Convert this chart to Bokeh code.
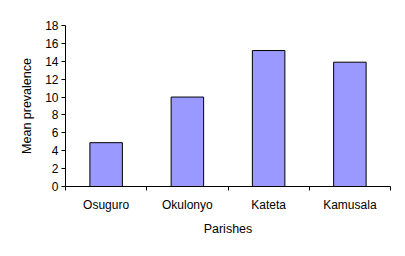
from bokeh.plotting import figure
from bokeh.models import FixedTicker, Range1d
from bokeh.embed import file_html
from bokeh.resources import INLINE

categories = ["Osuguro", "Okulonyo", "Kateta", "Kamusala"]
values = [4.9, 10.0, 15.2, 13.9]
y_ticks = [0, 2, 4, 6, 8, 10, 12, 14, 16, 18]

xs = [i + 0.5 for i in range(len(categories))]

p = figure(width=405, height=256, output_backend="svg", toolbar_location=None,
           x_range=Range1d(0, len(categories)), y_range=Range1d(0, 18),
           min_border_left=65, min_border_right=15, min_border_top=25, min_border_bottom=70)
p.outline_line_color = None
p.grid.visible = False
p.background_fill_color = "white"
p.border_fill_color = "white"

p.vbar(x=xs, top=values, width=0.4, bottom=0, fill_color="#9999FF",
       line_color="black", line_width=1)

font = "Liberation Sans"
xa = p.xaxis[0]
xa.ticker = FixedTicker(ticks=xs, minor_ticks=list(range(len(categories) + 1)))
xa.major_label_overrides = {x: c for x, c in zip(xs, categories)}
xa.major_tick_out = 0
xa.major_tick_in = 0
xa.minor_tick_out = 4
xa.minor_tick_in = 0
xa.minor_tick_line_color = "black"
xa.major_label_standoff = 7
xa.axis_label = "Parishes"
xa.axis_label_standoff = 7

ya = p.yaxis[0]
ya.ticker = FixedTicker(ticks=y_ticks, minor_ticks=[])
ya.major_tick_out = 4
ya.major_tick_in = 0
ya.minor_tick_out = 0
ya.minor_tick_in = 0
ya.major_label_standoff = 3
ya.axis_label = "Mean prevalence"
ya.axis_label_standoff = 8

for ax in (xa, ya):
    ax.axis_line_color = "black"
    ax.axis_line_width = 1
    ax.major_tick_line_color = "black"
    ax.major_label_text_font = font
    ax.major_label_text_font_size = "12px"
    ax.major_label_text_color = "black"
    ax.axis_label_text_font = font
    ax.axis_label_text_font_size = "12.5px"
    ax.axis_label_text_font_style = "normal"
    ax.axis_label_text_color = "black"

open("out.html", "w").write(file_html(p, INLINE))
